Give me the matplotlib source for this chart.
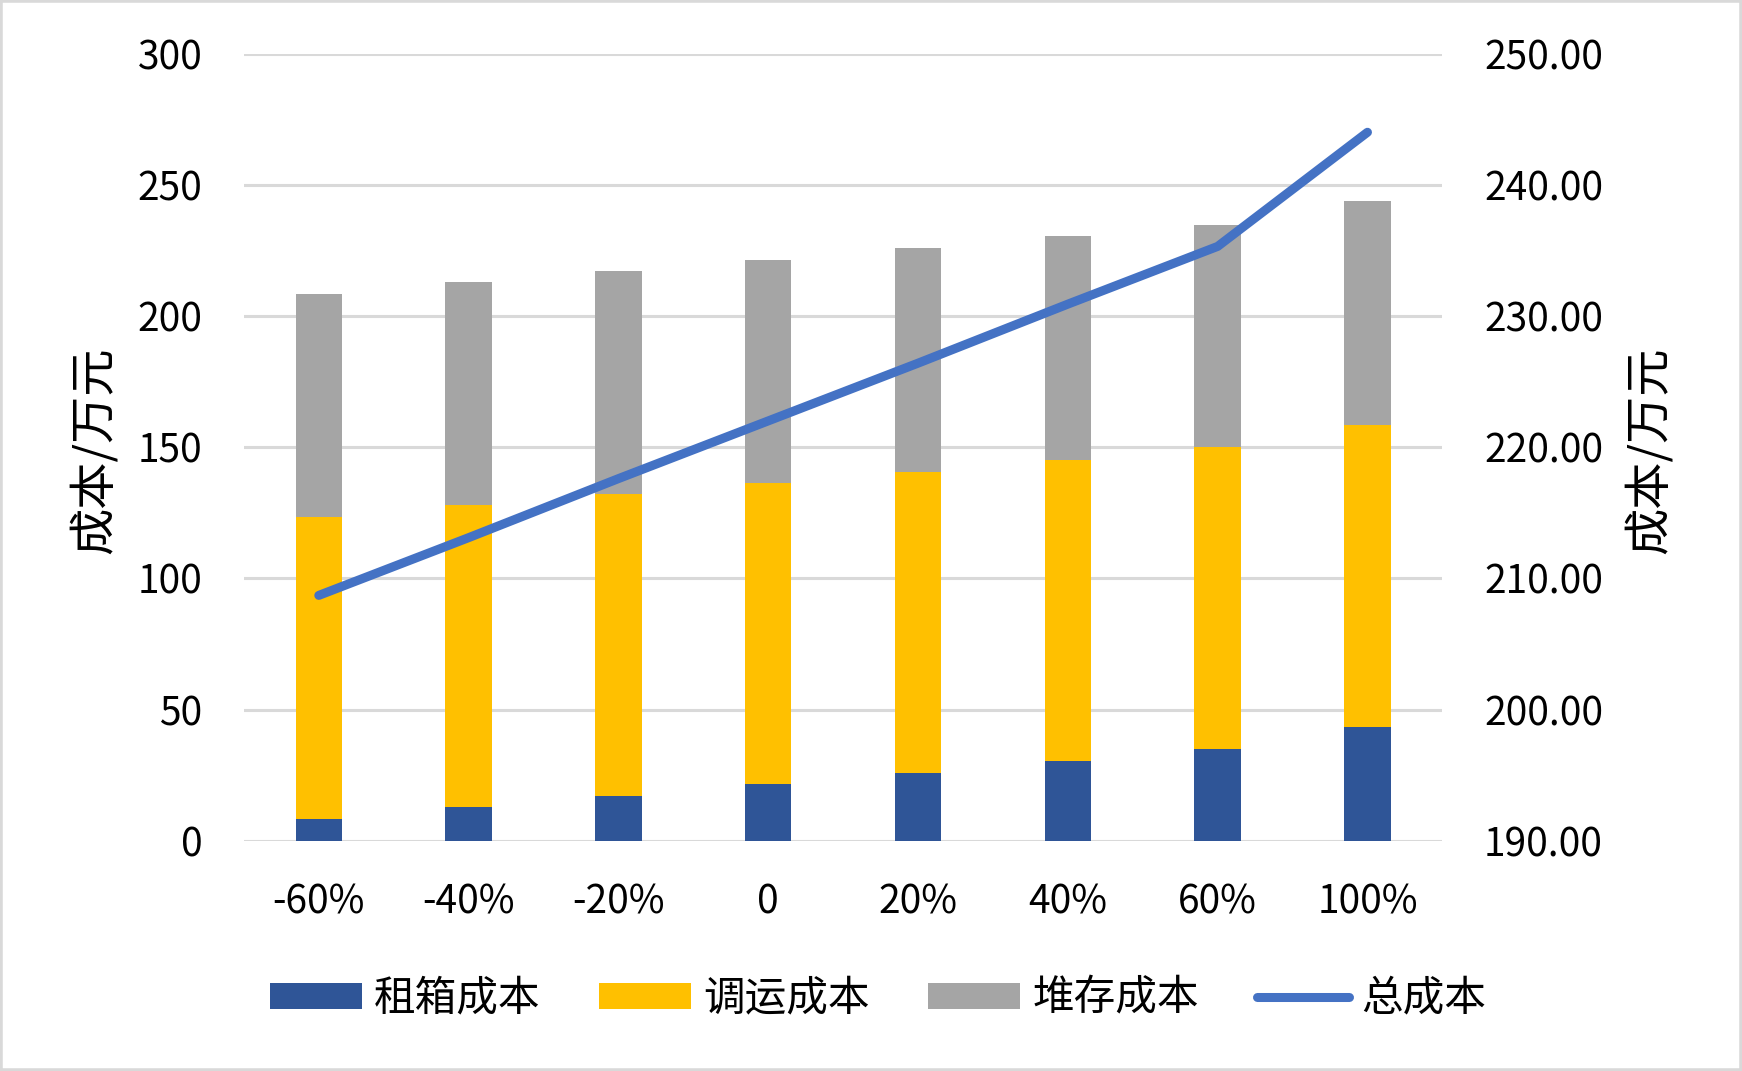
import matplotlib
matplotlib.use("Agg")
import matplotlib.pyplot as plt
from matplotlib.patches import Rectangle
from matplotlib.ticker import FormatStrFormatter

plt.rcParams['font.family'] = ['Noto Sans CJK SC', 'DejaVu Sans']

categories = ['-60%', '-40%', '-20%', '0', '20%', '40%', '60%', '100%']
rental = [8.4, 12.7, 17.2, 21.6, 25.8, 30.3, 34.9, 43.5]
dispatch = [114.9, 115.2, 114.8, 114.9, 114.9, 114.7, 115.0, 114.9]
storage = [84.9, 85.0, 85.3, 85.0, 85.1, 85.6, 84.8, 85.4]
total = [208.7, 213.1, 217.6, 222.0, 226.4, 230.9, 235.3, 244.0]

c_rent = '#2F5597'
c_disp = '#FFC000'
c_stor = '#A5A5A5'
c_line = '#4472C4'
c_grid = '#D9D9D9'

fig = plt.figure(figsize=(17.42, 10.71), dpi=100)
ax = fig.add_axes([0.140, 0.215, 0.688, 0.735])
ax2 = ax.twinx()

x = list(range(len(categories)))
base2 = [a + b for a, b in zip(rental, dispatch)]
w = 0.31
b1 = ax.bar(x, rental, w, color=c_rent, label='租箱成本', zorder=2)
b2 = ax.bar(x, dispatch, w, bottom=rental, color=c_disp, label='调运成本', zorder=2)
b3 = ax.bar(x, storage, w, bottom=base2, color=c_stor, label='堆存成本', zorder=2)
ln, = ax2.plot(x, total, color=c_line, lw=6.5, solid_capstyle='round',
               solid_joinstyle='round', label='总成本', zorder=3)

ax.set_xlim(-0.5, len(categories) - 0.5)
ax.set_ylim(0, 300)
ax.set_yticks(range(0, 301, 50))
ax2.set_ylim(190, 250)
ax2.set_yticks(range(190, 251, 10))
ax2.yaxis.set_major_formatter(FormatStrFormatter('%.2f'))
ax.set_xticks(x)
ax.set_xticklabels(categories)

ax.grid(axis='y', color=c_grid, lw=2.2, zorder=0)
ax.set_axisbelow(True)
for a in (ax, ax2):
    for s in a.spines.values():
        s.set_visible(False)
ax.tick_params(axis='both', length=0, labelsize=28, colors='black')
ax.tick_params(axis='y', pad=30)
ax.tick_params(axis='x', pad=30)
ax2.tick_params(axis='y', length=0, labelsize=28, pad=30, colors='black')

fig.text(0.054, 0.58, '成本/万元', rotation=90, ha='center', va='center', fontsize=34)
fig.text(0.947, 0.58, '成本/万元', rotation=90, ha='center', va='center', fontsize=34)

fig.legend([b1, b2, b3, ln], ['租箱成本', '调运成本', '堆存成本', '总成本'],
           loc='center', bbox_to_anchor=(0.504, 0.067), ncol=4, frameon=False,
           fontsize=30, handlelength=2.2, handleheight=0.55, handletextpad=0.3,
           columnspacing=1.4)

fig.patches.append(Rectangle((0, 0), 1, 1, transform=fig.transFigure, fill=False,
                             edgecolor=c_grid, lw=4))

fig.savefig('out.png', dpi=100)
